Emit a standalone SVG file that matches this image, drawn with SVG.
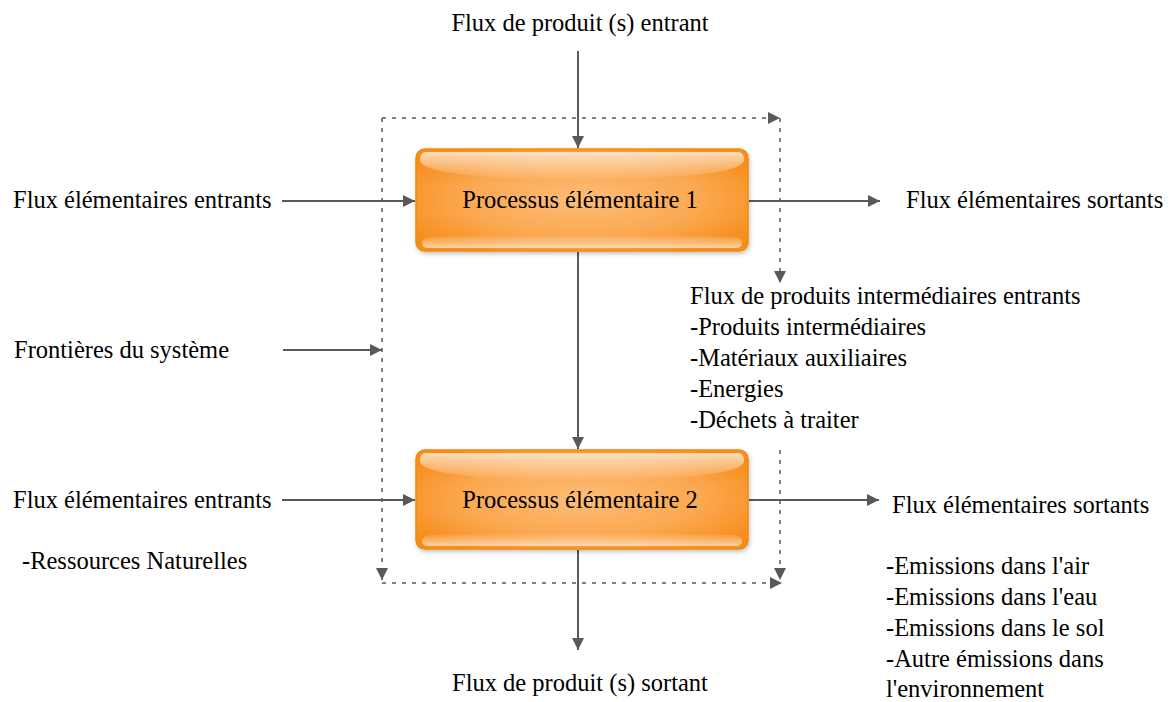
<svg xmlns="http://www.w3.org/2000/svg" width="1170" height="702" viewBox="0 0 1170 702">
<style>
text{font-family:"Liberation Serif","Times New Roman",serif;font-size:24.5px;fill:#000}
.ln{stroke:#595959;stroke-width:2;fill:none}
.ds{stroke:#595959;stroke-width:1.5;fill:none;stroke-dasharray:4 6}
.box{fill:url(#og);stroke:#ee8a10;stroke-width:1.5}
</style>
<defs>
<marker id="ah" viewBox="0 0 10 10" refX="10" refY="5" markerWidth="6" markerHeight="6" orient="auto" markerUnits="strokeWidth">
<path d="M0,0 L10,5 L0,10 z" fill="#595959"/>
</marker>
<marker id="ahd" viewBox="0 0 10 10" refX="10" refY="5" markerWidth="8" markerHeight="8" orient="auto" markerUnits="strokeWidth">
<path d="M0,0 L10,5 L0,10 z" fill="#595959"/>
</marker>
<radialGradient id="og" cx="0.5" cy="0.5" r="0.6">
<stop offset="0" stop-color="#fdbd78"/>
<stop offset="0.6" stop-color="#fba850"/>
<stop offset="1" stop-color="#f78e1e"/>
</radialGradient>
<linearGradient id="hl" x1="0" y1="0" x2="0" y2="1">
<stop offset="0" stop-color="#fff" stop-opacity="0.7"/>
<stop offset="1" stop-color="#fff" stop-opacity="0"/>
</linearGradient>
<linearGradient id="hb" x1="0" y1="0" x2="0" y2="1">
<stop offset="0" stop-color="#fff" stop-opacity="0"/>
<stop offset="1" stop-color="#fff" stop-opacity="0.6"/>
</linearGradient>
<filter id="sh" x="-5%" y="-5%" width="110%" height="120%">
<feDropShadow dx="1" dy="2" stdDeviation="2" flood-color="#000" flood-opacity="0.25"/>
</filter>
</defs>

<g id="connectors">
<line class="ln" x1="578" y1="51" x2="578" y2="148" marker-end="url(#ah)"/>
<line class="ln" x1="578" y1="252" x2="578" y2="449" marker-end="url(#ah)"/>
<line class="ln" x1="578" y1="550" x2="578" y2="650" marker-end="url(#ah)"/>
<line class="ln" x1="282" y1="201" x2="415" y2="201" marker-end="url(#ah)"/>
<line class="ln" x1="749" y1="201" x2="880" y2="201" marker-end="url(#ah)"/>
<line class="ln" x1="282" y1="500" x2="415" y2="500" marker-end="url(#ah)"/>
<line class="ln" x1="749" y1="500" x2="879" y2="500" marker-end="url(#ah)"/>
<line class="ln" x1="283" y1="350" x2="382" y2="350" marker-end="url(#ah)"/>
<g id="frontiere">
<line class="ds" x1="382" y1="118" x2="780" y2="118" marker-end="url(#ahd)"/>
<line class="ds" x1="382" y1="118" x2="382" y2="580" marker-end="url(#ahd)"/>
<line class="ds" x1="382" y1="583" x2="782" y2="583" marker-end="url(#ahd)"/>
<line class="ds" x1="780" y1="118" x2="780" y2="283" marker-end="url(#ahd)"/>
<line class="ds" x1="780" y1="450" x2="780" y2="580" marker-end="url(#ahd)"/>
</g>
</g>

<g id="p1">
<rect class="box" x="416" y="149" width="332" height="102" rx="9" filter="url(#sh)"/>
<path d="M426,152 H738 Q744,152 744,160 Q744,178 580,180 Q420,178 420,160 Q420,152 426,152 z" fill="url(#hl)"/>
<path d="M430,237 Q580,232 736,237 Q742,238 742,243 Q742,248 736,248 H428 Q422,248 422,243 Q422,238 430,237 z" fill="url(#hb)"/>
<text x="580" y="208" text-anchor="middle">Processus élémentaire 1</text>
</g>

<g id="p2">
<rect class="box" x="416" y="450" width="332" height="99" rx="9" filter="url(#sh)"/>
<path d="M426,453 H738 Q744,453 744,461 Q744,479 580,481 Q420,479 420,461 Q420,453 426,453 z" fill="url(#hl)"/>
<path d="M430,535 Q580,530 736,535 Q742,536 742,541 Q742,546 736,546 H428 Q422,546 422,541 Q422,536 430,535 z" fill="url(#hb)"/>
<text x="580" y="508" text-anchor="middle">Processus élémentaire 2</text>
</g>

<g id="labels">
<text x="580" y="31" text-anchor="middle">Flux de produit (s) entrant</text>
<text x="13" y="208">Flux élémentaires entrants</text>
<text x="906" y="208">Flux élémentaires sortants</text>
<text x="14" y="358">Frontières du système</text>
<text x="690" y="304">Flux de produits intermédiaires entrants</text>
<text x="690" y="335">-Produits intermédiaires</text>
<text x="690" y="366">-Matériaux auxiliaires</text>
<text x="690" y="397">-Energies</text>
<text x="690" y="428">-Déchets à traiter</text>
<text x="13" y="508">Flux élémentaires entrants</text>
<text x="22" y="569">-Ressources Naturelles</text>
<text x="892" y="513">Flux élémentaires sortants</text>
<text x="886" y="574">-Emissions dans l'air</text>
<text x="886" y="605">-Emissions dans l'eau</text>
<text x="886" y="636">-Emissions dans le sol</text>
<text x="886" y="667">-Autre émissions dans</text>
<text x="886" y="697">l'environnement</text>
<text x="580" y="691" text-anchor="middle">Flux de produit (s) sortant</text>
</g>
</svg>
